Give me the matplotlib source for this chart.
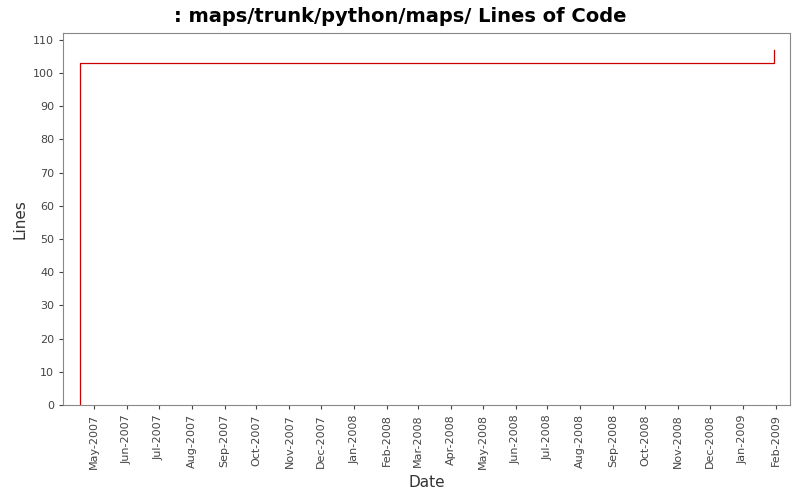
import datetime as dt

import matplotlib
matplotlib.use("Agg")
import matplotlib.pyplot as plt
import matplotlib.dates as mdates

# revision dates and line counts (step series)
dates = [dt.datetime(2007, 4, 18), dt.datetime(2007, 4, 18, 1),
         dt.datetime(2009, 1, 30), dt.datetime(2009, 1, 30, 1)]
lines = [0, 103, 103, 107]

fig = plt.figure(figsize=(8, 5), dpi=100)
ax = fig.add_axes([0.079, 0.19, 0.908, 0.744])
ax.step(dates, lines, where="post", color="#cc0000", linewidth=0.9)

ax.set_xlim(dt.datetime(2007, 4, 2), dt.datetime(2009, 2, 14))
ax.set_ylim(0, 112)
ax.set_yticks(range(0, 111, 10))
ax.xaxis.set_major_locator(mdates.MonthLocator(bymonthday=1))
ax.xaxis.set_major_formatter(mdates.DateFormatter("%b-%Y"))
for lbl in ax.get_xticklabels():
    lbl.set_rotation(90)
ax.tick_params(labelsize=8, colors="#444444", length=3)
for s in ax.spines.values():
    s.set_color("#888888")

ax.set_xlabel("Date", fontsize=11, color="#333333")
ax.set_ylabel("Lines", fontsize=11, color="#333333")
fig.suptitle(": maps/trunk/python/maps/ Lines of Code", fontsize=14,
             fontweight="bold", y=0.985)

fig.savefig("out.png", dpi=100)
